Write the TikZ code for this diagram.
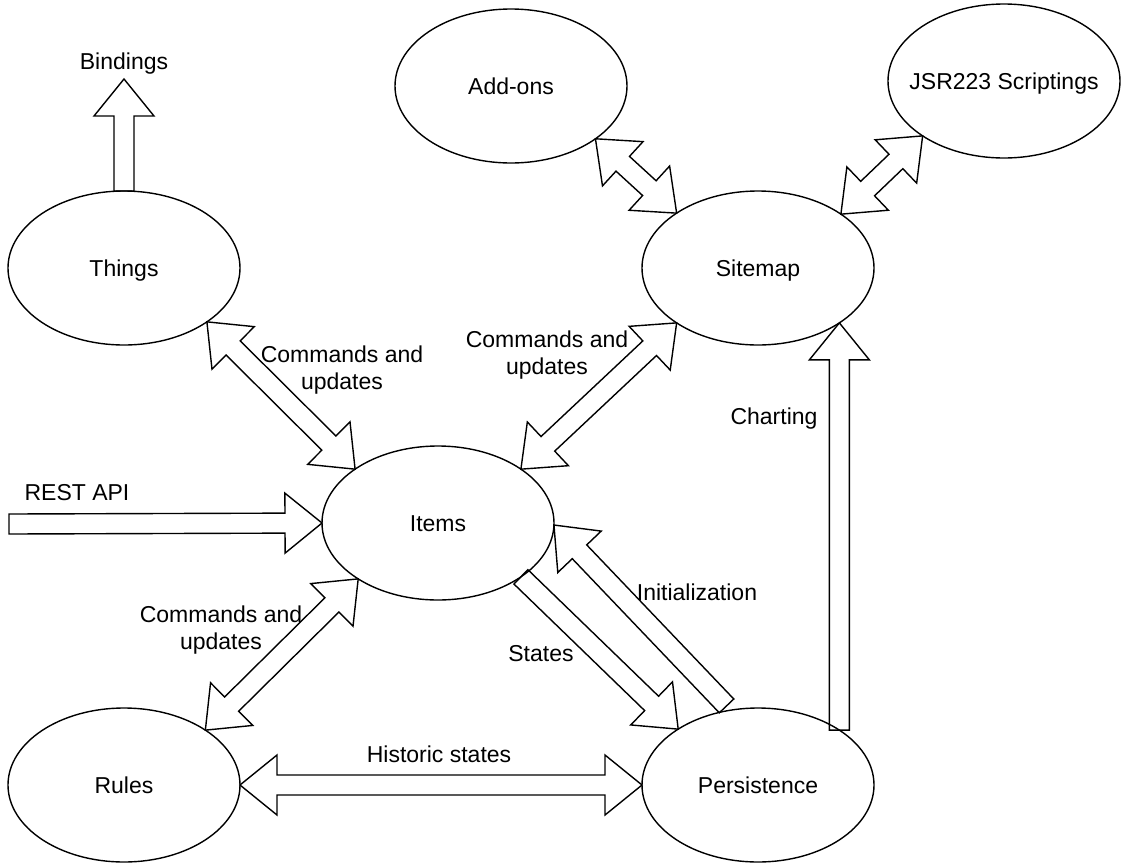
\documentclass[tikz,border=0pt]{standalone}
\usepackage{fontspec}
\setmainfont{Liberation Sans}
\usetikzlibrary{shapes.geometric,calc}

% block-arrow geometry
\newcommand{\blkheadlen}{37pt}
\newcommand{\blkheadhw}{30pt}
\newcommand{\blkshafthw}{10pt}

% hollow arrow with a head at both ends
\newcommand{\twowayblock}[2]{%
  \coordinate (ha) at ($(#1)!\blkheadlen!(#2)$);
  \coordinate (hb) at ($(#2)!\blkheadlen!(#1)$);
  \draw[blockarrow] (#1)
    -- ($(ha)!\blkheadhw!90:(#2)$) -- ($(ha)!\blkshafthw!90:(#2)$)
    -- ($(hb)!\blkshafthw!-90:(#1)$) -- ($(hb)!\blkheadhw!-90:(#1)$)
    -- (#2)
    -- ($(hb)!\blkheadhw!90:(#1)$) -- ($(hb)!\blkshafthw!90:(#1)$)
    -- ($(ha)!\blkshafthw!-90:(#2)$) -- ($(ha)!\blkheadhw!-90:(#2)$)
    -- cycle;}

% hollow arrow from a flat tail (#1) to a tip (#2)
\newcommand{\onewayblock}[2]{%
  \coordinate (hb) at ($(#2)!\blkheadlen!(#1)$);
  \draw[blockarrow] ($(#1)!\blkshafthw!90:(#2)$)
    -- ($(hb)!\blkshafthw!-90:(#1)$) -- ($(hb)!\blkheadhw!-90:(#1)$)
    -- (#2)
    -- ($(hb)!\blkheadhw!90:(#1)$) -- ($(hb)!\blkshafthw!90:(#1)$)
    -- ($(#1)!\blkshafthw!-90:(#2)$) -- cycle;}

\tikzset{
  every node/.style={font=\fontsize{23}{27}\selectfont},
  oneline/.style={text height=16pt, text depth=0pt},
  comp/.style={ellipse, draw, line width=1.4pt, minimum width=232pt,
    minimum height=154pt, inner sep=0pt, outer sep=0pt, oneline},
  blockarrow/.style={draw, line width=1.4pt, line join=miter},
  lbl/.style={align=center, inner sep=0pt},
  twoline/.style={lbl, yshift=-2pt}
}

\begin{document}
\begin{tikzpicture}[x=1pt, y=-1pt]
\useasboundingbox (0,0) rectangle (1125,863);

% components (a long name gets a negative inner sep so the ellipse keeps its size)
\node[comp] (things)      at (124,268)  {Things};
\node[comp] (addons)      at (511,86)   {Add-ons};
\node[comp, inner xsep=-40pt] (jsr) at (1004,81) {JSR223 Scriptings};
\node[comp] (sitemap)     at (758,268)  {Sitemap};
\node[comp] (items)       at (438,523)  {Items};
\node[comp] (rules)       at (124,785)  {Rules};
\node[comp] (persistence) at (758,785)  {Persistence};

% free ends and labels
\node[lbl, oneline] (bindings) at (124,61) {Bindings};
\coordinate (bindtip) at (124,79);
\coordinate (resttail) at (9,524);
\node[lbl, oneline] (restlbl) at (77,492) {REST API};

% connectors
\onewayblock{things.north}{bindtip}
\twowayblock{things.-33.6}{items.147}
\twowayblock{sitemap.214.3}{items.33}
\twowayblock{addons.-32.9}{sitemap.146.2}
\twowayblock{jsr.-146.2}{sitemap.33.5}
\onewayblock{resttail}{items.west}
\twowayblock{items.-145.7}{rules.34}
\twowayblock{rules.east}{persistence.west}
\onewayblock{items.-33.9}{persistence.145.5}
\coordinate (inittail) at ($(persistence.113)+(0,-5)$);
\onewayblock{inittail}{items.-1}
\onewayblock{persistence.34.3}{sitemap.-34.3}

% connector labels
\node[twoline] (cu1) at (342,368) {Commands and\\updates};
\node[twoline] (cu2) at (547,353) {Commands and\\updates};
\node[twoline] (cu3) at (221,628) {Commands and\\updates};
\node[lbl, oneline] (charting) at (774,416) {Charting};
\node[lbl, oneline] (init) at (697,592) {Initialization};
\node[lbl, oneline] (states) at (541,653) {States};
\node[lbl, oneline] (hist) at (439,754) {Historic states};
\end{tikzpicture}
\end{document}
